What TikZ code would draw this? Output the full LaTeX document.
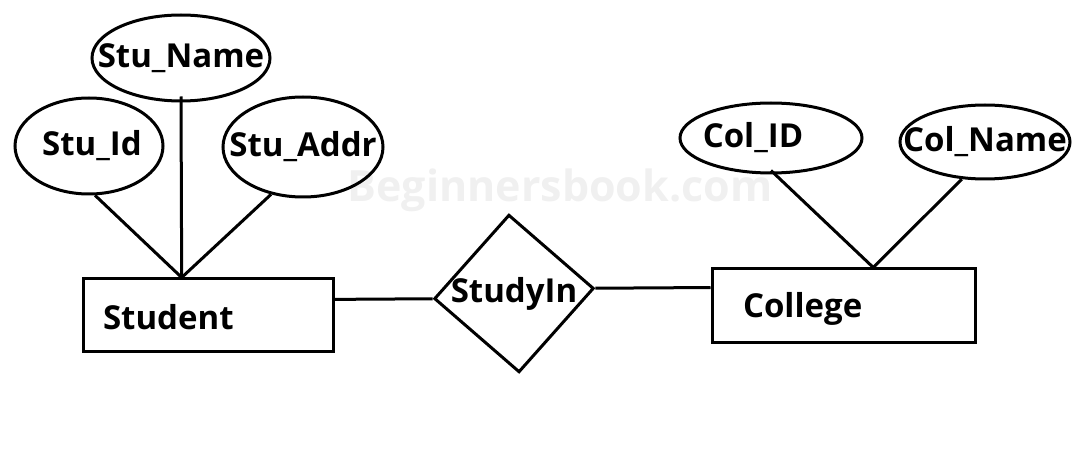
\documentclass[tikz,border=0pt]{standalone}
\usepackage{fontspec}
\setmainfont{Open Sans}
\usetikzlibrary{shapes.geometric,calc}
\definecolor{wm}{HTML}{F0F0F0}
\begin{document}
\begin{tikzpicture}[x=1pt,y=-1pt,
  every node/.style={font=\bfseries\fontsize{33}{38}\selectfont},
  attr/.style={draw,ellipse,line width=3pt,inner sep=0pt},
  ent/.style={draw,rectangle,line width=3pt,inner sep=0pt},
  rel/.style={draw,diamond,line width=3pt,inner sep=0pt,minimum width=160pt,minimum height=158pt},
  conn/.style={line width=3pt}]
\useasboundingbox (0,0) rectangle (1080,457);
\node[text=wm,font=\bfseries\fontsize{43}{50}\selectfont] (wmk) at (560,190) {Beginnersbook.com};
% entities
\node[ent,minimum width=250pt,minimum height=73pt,
      label={[anchor=west,xshift=18pt,yshift=-2pt]west:Student}] (student) at (208,315.5) {};
\node[ent,minimum width=263pt,minimum height=74pt,
      label={[anchor=west,xshift=29pt,yshift=-3pt]west:College}] (college) at (843.5,306) {};
% relationship
\node[rel,rotate=3.7] (study) at (514,293.5) {\rotatebox{-3.7}{\makebox[0pt]{StudyIn}}};
% attributes
\node[attr,minimum width=178pt,minimum height=86pt] (sname) at (181,58) {\makebox[0pt]{\raisebox{-3pt}{Stu\_Name}}};
\node[attr,minimum width=148pt,minimum height=96pt] (sid) at (89,146) {\makebox[0pt]{\hspace*{6pt}Stu\_Id}};
\node[attr,minimum width=160pt,minimum height=100pt] (saddr) at (303,147) {\makebox[0pt]{Stu\_Addr}};
\node[attr,minimum width=182pt,minimum height=70pt] (cid) at (771,138) {\makebox[0pt]{\hspace*{-36pt}\raisebox{-2pt}{Col\_ID}}};
\node[attr,minimum width=170pt,minimum height=74pt] (cname) at (985,142) {\makebox[0pt]{Col\_Name}};
% connectors
\coordinate (sj) at ($(student.north west)!0.396!(student.north east)$);
\coordinate (sr) at ($(student.north east)!0.288!(student.south east)$);
\coordinate (cl) at ($(college.north west)!0.26!(college.south west)$);
\coordinate (cj) at ($(college.north west)!0.612!(college.north east)$);
\draw[conn] (sid.-83) -- (sj);
\draw[conn] ([yshift=6pt]sname.south) -- (sj);
\draw[conn] (saddr.-124.5) -- (sj);
\draw[conn] (sr) -- (study.west);
\draw[conn] (study.east) -- (cl);
\draw[conn] ([yshift=4pt]cid.south) -- (cj);
\draw[conn] (cname.-122.7) -- (cj);
\end{tikzpicture}
\end{document}
